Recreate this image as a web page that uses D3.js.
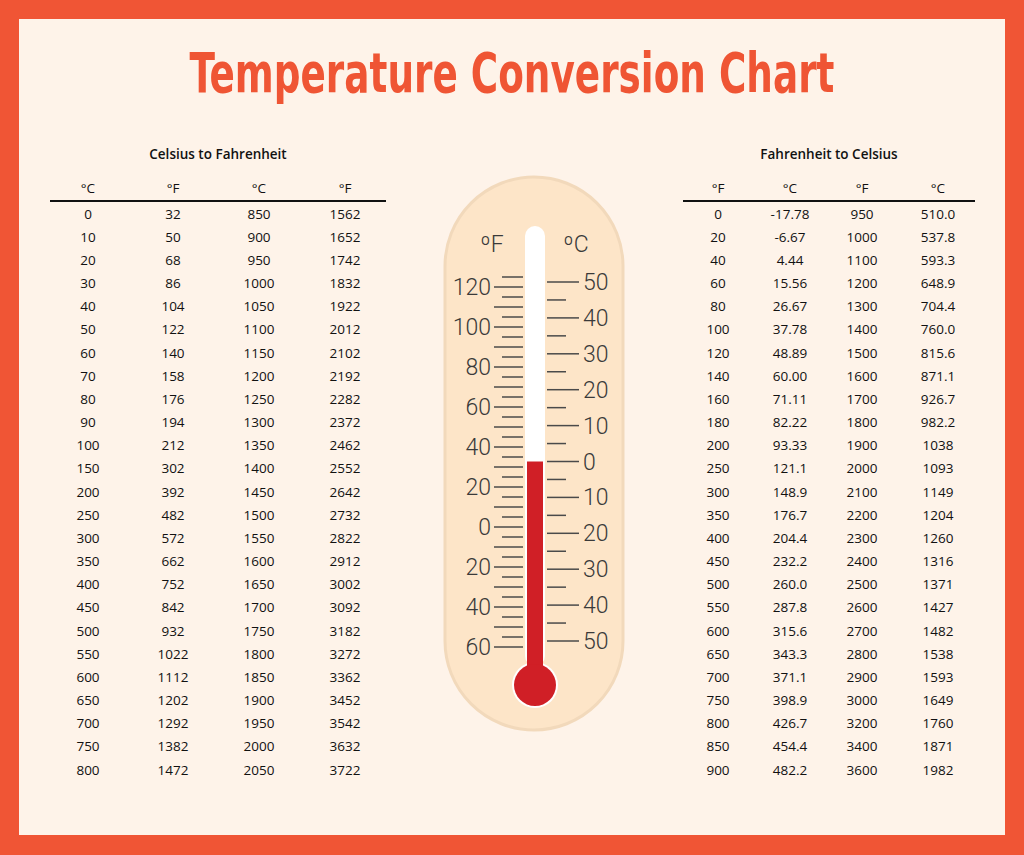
<!DOCTYPE html><html><head><meta charset="utf-8">
<script src="https://cdn.jsdelivr.net/npm/d3@7"></script>
<style>body{margin:0}svg{display:block}</style></head><body>
<script>
const cfC1=[0,10,20,30,40,50,60,70,80,90,100,150,200,250,300,350,400,450,500,550,600,650,700,750,800];
const cfF1=[32,50,68,86,104,122,140,158,176,194,212,302,392,482,572,662,752,842,932,1022,1112,1202,1292,1382,1472];
const cfC2=[850,900,950,1000,1050,1100,1150,1200,1250,1300,1350,1400,1450,1500,1550,1600,1650,1700,1750,1800,1850,1900,1950,2000,2050];
const cfF2=[1562,1652,1742,1832,1922,2012,2102,2192,2282,2372,2462,2552,2642,2732,2822,2912,3002,3092,3182,3272,3362,3452,3542,3632,3722];
const fcF1=[0,20,40,60,80,100,120,140,160,180,200,250,300,350,400,450,500,550,600,650,700,750,800,850,900];
const fcC1=["-17.78","-6.67","4.44","15.56","26.67","37.78","48.89","60.00","71.11","82.22","93.33","121.1","148.9","176.7","204.4","232.2","260.0","287.8","315.6","343.3","371.1","398.9","426.7","454.4","482.2"];
const fcF2=[950,1000,1100,1200,1300,1400,1500,1600,1700,1800,1900,2000,2100,2200,2300,2400,2500,2600,2700,2800,2900,3000,3200,3400,3600];
const fcC2=["510.0","537.8","593.3","648.9","704.4","760.0","815.6","871.1","926.7","982.2","1038","1093","1149","1204","1260","1316","1371","1427","1482","1538","1593","1649","1760","1871","1982"];
const fTicks=d3.range(-60,126,5);
const cTicks=d3.range(-50,51,5);
const mercuryC=0;

const svg=d3.select("body").append("svg").attr("width",1024).attr("height",855);
svg.append("rect").attr("width",1024).attr("height",855).attr("fill","#f05535");
svg.append("rect").attr("x",19).attr("y",19).attr("width",986).attr("height",816).attr("fill","#fef3e9");
svg.append("text").attr("x",512).attr("y",92).attr("text-anchor","middle")
 .attr("font-family","'Liberation Sans Narrow','DejaVu Sans Condensed','DejaVu Sans'").attr("font-weight","bold").attr("font-size",56)
 .attr("textLength",645).attr("lengthAdjust","spacingAndGlyphs").attr("fill","#ef5534").text("Temperature Conversion Chart");

const rowY=d3.scaleLinear().domain([0,24]).range([214,770]);
function table(title,cx,xs,x0,x1,heads,cols){
 const g=svg.append("g").attr("font-family","Open Sans").attr("fill","#111");
 g.append("text").attr("x",cx).attr("y",159).attr("text-anchor","middle").attr("font-size",13.5).attr("font-weight","600").text(title);
 heads.forEach((h,i)=>g.append("text").attr("x",xs[i]).attr("y",193).attr("text-anchor","middle").attr("font-size",13.5).text(h));
 g.append("line").attr("x1",x0).attr("x2",x1).attr("y1",201).attr("y2",201).attr("stroke","#111").attr("stroke-width",2);
 cols.forEach((col,i)=>g.selectAll(null).data(col).join("text").attr("x",xs[i]).attr("y",(d,j)=>rowY(j)+4.5)
   .attr("text-anchor","middle").attr("font-size",13.5).text(d=>d));
}
table("Celsius to Fahrenheit",218,[88,173,259,345],50,386,["°C","°F","°C","°F"],[cfC1,cfF1,cfC2,cfF2]);
table("Fahrenheit to Celsius",829,[718,790,862,938],683,975,["°F","°C","°F","°C"],[fcF1,fcC1,fcF2,fcC2]);

const t=svg.append("g");
t.append("rect").attr("x",445).attr("y",177).attr("width",178).attr("height",553).attr("rx",89)
 .attr("fill","#fde5c8").attr("stroke","#f2d9bb").attr("stroke-width",3);
const yF=d3.scaleLinear().domain([120,-60]).range([287,647]);
const yC=d3.scaleLinear().domain([50,-50]).range([282,641]);
t.append("rect").attr("x",525).attr("y",226).attr("width",20).attr("height",440).attr("rx",10).attr("fill","#fff");
t.append("circle").attr("cx",535).attr("cy",685).attr("r",23).attr("fill","#fff");
t.append("rect").attr("x",527).attr("y",yC(mercuryC)).attr("width",16).attr("height",685-yC(mercuryC)).attr("fill","#d01f26");
t.append("circle").attr("cx",535).attr("cy",685).attr("r",21).attr("fill","#d01f26");
const tc="#4a4a4a";
t.selectAll(null).data(fTicks).join("line").attr("x1",d=>d%10===0?494:502).attr("x2",523)
 .attr("y1",d=>yF(d)).attr("y2",d=>yF(d)).attr("stroke",tc).attr("stroke-width",1.5);
t.selectAll(null).data(cTicks).join("line").attr("x1",547).attr("x2",d=>d%10===0?579:566)
 .attr("y1",d=>yC(d)).attr("y2",d=>yC(d)).attr("stroke",tc).attr("stroke-width",1.5);
const lf={"font-family":"Roboto","font-weight":300,"font-size":23,"fill":"#3a3a3a"};
function st(s){Object.entries(lf).forEach(([k,v])=>s.attr(k,v));return s;}
st(t.selectAll(null).data(d3.range(-60,121,20)).join("text").attr("x",491).attr("y",d=>yF(d)+8)
 .attr("text-anchor","end").text(d=>Math.abs(d)));
st(t.selectAll(null).data(d3.range(-50,51,10)).join("text").attr("x",583).attr("y",d=>yC(d)+8)
 .text(d=>Math.abs(d)));
st(t.append("text").attr("x",492).attr("y",252).attr("text-anchor","middle").attr("font-size",26).text("ºF"));
st(t.append("text").attr("x",576).attr("y",252).attr("text-anchor","middle").attr("font-size",26).text("ºC"));
</script></body></html>
